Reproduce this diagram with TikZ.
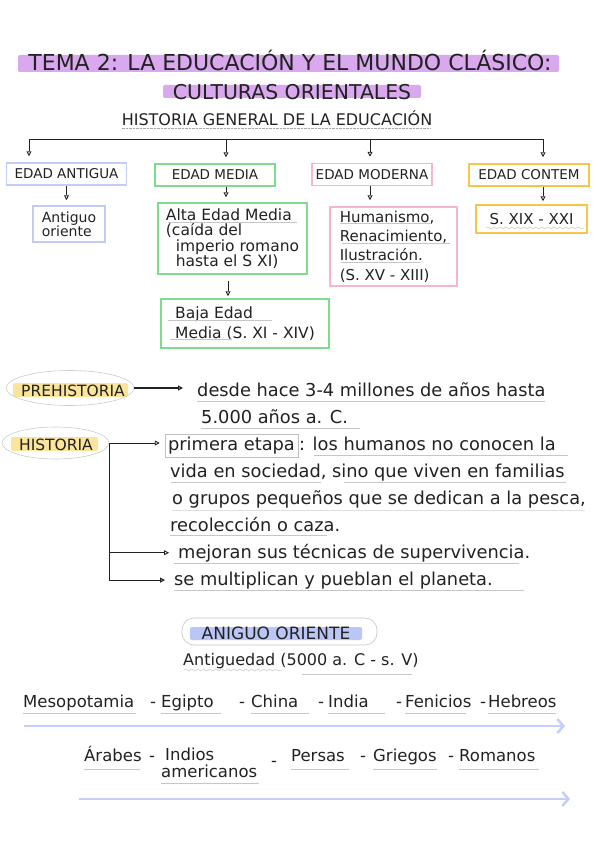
\documentclass[tikz,border=0pt]{standalone}
\usepackage{fontspec}
\setmainfont{DejaVu Sans}
\usetikzlibrary{arrows.meta, positioning, shapes.geometric, decorations.pathmorphing}

\definecolor{hlpurple}{HTML}{D9A8EE}
\definecolor{hlyellow}{HTML}{FBE49B}
\definecolor{hlblue}{HTML}{BAC6F6}
\definecolor{boxblue}{HTML}{C3CCF7}
\definecolor{boxgreen}{HTML}{7FDB8E}
\definecolor{boxpink}{HTML}{F7B5CE}
\definecolor{boxyellow}{HTML}{F6C645}
\definecolor{arrowblue}{HTML}{C5CEF8}
\definecolor{ink}{HTML}{222222}

\newcommand{\fs}[2]{\fontsize{#1}{#2}\selectfont}

\tikzset{
  edadbox/.style={draw=#1, line width=1.5pt, inner sep=0pt, minimum width=120pt, minimum height=22pt, font=\fs{13.5}{15}, text=ink},
  subbox/.style={draw=#1, line width=1.5pt, inner sep=0pt, align=left, text=ink},
  txt/.style={font=\fs{17.8}{20}, text=ink, inner sep=0pt, anchor=base west},
  conn/.style={ink, line width=0.9pt, -{Triangle[open,length=5pt,width=5pt]}},
  uline/.style={gray!45, line width=0.5pt},
  wavy/.style={gray!45, line width=0.5pt, decorate, decoration={snake, amplitude=1pt, segment length=6pt}},
  hl/.style={fill=#1, rounded corners=2pt},
  oval/.style={ellipse, draw=gray!40, line width=0.6pt, inner sep=0pt},
  timeline/.style={arrowblue, line width=2.5pt, -{Straight Barb[length=6pt,width=14pt]}},
}

\begin{document}
\begin{tikzpicture}[x=1pt, y=-1pt]
  \fill[white] (0,0) rectangle (600,848);
  \useasboundingbox (0,0) rectangle (600,848);

  % Titles
  \fill[hl=hlpurple] (18,55) rectangle (559,72);
  \node[font=\fs{22}{26}, text=ink, inner sep=0pt, anchor=base] (title) at (290,71) {TEMA 2: LA EDUCACIÓN Y EL MUNDO CLÁSICO:};
  \fill[hl=hlpurple] (163,85) rectangle (421,98);
  \node[font=\fs{20.4}{24}, text=ink, inner sep=0pt, anchor=base] (subtitle) at (292,99.5) {CULTURAS ORIENTALES};
  \node[font=\fs{16}{19}, text=ink, inner sep=0pt, anchor=base] (hge) at (277,125.5) {HISTORIA GENERAL DE LA EDUCACIÓN};
  \draw[gray!70, densely dotted] (hge.base west) ++(0,3) -- ++(309,0);

  % Ages
  \node[edadbox=boxblue] (ant) at (66.5,174) {EDAD ANTIGUA};
  \node[edadbox=boxgreen] (med) at (215,175) {EDAD MEDIA};
  \node[edadbox=boxpink] (mod) at (372,174.5) {EDAD MODERNA};
  \node[edadbox=boxyellow] (con) at (529,175) {EDAD CONTEM};

  \coordinate (d1) at (29,139);
  \coordinate (d2) at (226,139);
  \coordinate (d3) at (370,139);
  \coordinate (d4) at (543,139);
  \draw[ink, line width=0.9pt] (d1) -- (d4);
  \foreach \d/\b in {d1/ant, d2/med, d3/mod, d4/con}
    \draw[conn, shorten >=6pt] (\d) -- (\d |- \b.north);

  \node[subbox=boxblue, minimum width=72pt, minimum height=36pt, font=\fs{14}{14}] (ao) at (69,224) {Antiguo\\oriente};
  \node[subbox=boxgreen, minimum width=149pt, minimum height=71pt, font=\fs{15.5}{15.5}] (alta) at (232.5,238.5)
    {Alta Edad Media\\(caída del\\\ \ imperio romano\\\ \ hasta el S XI)};
  \node[subbox=boxpink, minimum width=127pt, minimum height=79pt, font=\fs{15}{19.3}] (hum) at (393.5,246.5)
    {Humanismo,\\Renacimiento,\\Ilustración.\\(S. XV - XIII)};
  \node[subbox=boxyellow, minimum width=111pt, minimum height=28pt, font=\fs{15}{17}] (sxix) at (531.5,219) {S. XIX - XXI};
  \node[subbox=boxgreen, minimum width=168pt, minimum height=49pt, font=\fs{15.5}{20}] (baja) at (245,323.5)
    {Baja Edad\\Media (S. XI - XIV)};

  \draw[conn, shorten >=5pt] (ant.south) -- (ant.south |- ao.north);
  \draw[conn, shorten >=5pt] (med.south -| d2) -- (d2 |- alta.north);
  \draw[conn, shorten >=6pt] (mod.south -| d3) -- (d3 |- hum.north);
  \draw[conn, shorten >=3pt] (con.south -| d4) -- (d4 |- sxix.north);
  \draw[conn, shorten >=2pt, shorten <=6pt] (alta.south -| 228,0) -- (228,0 |- baja.north);

  % underlines in boxes
  \draw[uline] (168,222) -- (297,222);
  \draw[uline] (340,223) -- (430,223);
  \draw[uline] (342,243) -- (450,243);
  \draw[uline] (341,262) -- (420,262);
  \draw[wavy] (486,228) -- (584,228);
  \draw[uline] (168,320) -- (272,320);
  \draw[uline] (170,339) -- (232,339);

  % Prehistoria
  \fill[hl=hlyellow] (13,383) rectangle (128,397);
  \node[font=\fs{15.5}{18}, text=ink, inner sep=0pt, anchor=base] (pre) at (73,396) {PREHISTORIA};
  \node[oval, minimum width=128pt, minimum height=35pt] (preov) at (70,388) {};
  \node[txt] (desde) at (197,396) {desde hace 3-4 millones de años hasta};
  \node[txt] (anos) at (201,423) {5.000 años a. C.};
  \draw[conn, line width=1.1pt, shorten >=14pt] (preov.east) -- (preov.east -| desde.west);
  \draw[uline] (197,401) -- (545,401);
  \draw[uline] (201,428) -- (360,428);

  % Historia
  \fill[hl=hlyellow] (11,437) rectangle (98,451);
  \node[font=\fs{15.5}{18}, text=ink, inner sep=0pt, anchor=base] (hist) at (56,450) {HISTORIA};
  \node[oval, minimum width=107pt, minimum height=32pt] (histov) at (55.5,443) {};
  \node[draw=gray!50, line width=0.5pt, font=\fs{17.8}{20}, text=ink, minimum width=133pt, minimum height=23pt, inner sep=0pt] (et) at (231.5,445.5) {primera etapa};
  \node[txt] (l1) at (299,450) {: los humanos no conocen la};
  \node[txt] (l2) at (170,477) {vida en sociedad, sino que viven en familias};
  \node[txt] (l3) at (172,504) {o grupos pequeños que se dedican a la pesca,};
  \node[txt] (l4) at (170,531) {recolección o caza.};
  \node[txt] (l5) at (178,558) {mejoran sus técnicas de supervivencia.};
  \node[txt] (l6) at (174,585) {se multiplican y pueblan el planeta.};

  \draw[conn, shorten >=5pt] (histov.east) -- (histov.east -| et.west);
  \draw[ink, line width=0.9pt] (histov.east) -- (histov.east |- l6.west);
  \draw[conn, shorten >=9pt] (histov.east |- l5.west) -- (l5.west);
  \draw[conn, line width=1.1pt, shorten >=9pt] (histov.east |- l6.west) -- (l6.west);

  \draw[uline] (314,455) -- (568,455);
  \draw[uline] (171,482) -- (321,482);
  \draw[uline] (344,482) -- (566,482);
  \draw[gray!25, line width=0.5pt] (172,510) -- (585,510);
  \draw[uline] (170,535) -- (327,535);
  \draw[uline] (174,563) -- (519,563);
  \draw[uline] (174,590) -- (524,590);

  % Antiguo oriente
  \draw[gray!45, line width=0.6pt, rounded corners=12pt] (182,618) rectangle (377,645);
  \fill[hl=hlblue] (190,627) rectangle (362,640);
  \node[font=\fs{17}{20}, text=ink, inner sep=0pt, anchor=base] (aor) at (276,639) {ANIGUO ORIENTE};
  \node[txt, font=\fs{16}{19}] (antig) at (183,665) {Antiguedad (5000 a. C - s. V)};
  \draw[wavy] (184,670) -- (282,670);
  \draw[uline] (302,674) -- (412,674);

  % Pueblos
  \foreach \x/\w/\u in {23/Mesopotamia/113, 150/-/0, 161/Egipto/60, 239/-/0, 251/China/58,
                        318/-/0, 328/India/57, 396/-/0, 405/Fenicios/61, 480/-/0, 488/Hebreos/68}{
    \node[txt, font=\fs{16.5}{19}] (p\x) at (\x,707) {\w};
    \ifnum\u>0 \draw[uline] (\x,713) -- ++(\u,0); \fi
  }
  \coordinate (t1s) at (24,726);
  \coordinate (t1e) at (565,726);
  \draw[timeline] (t1s) -- (t1e);

  \foreach \x/\w/\u in {84/Árabes/56, 149/-/0, 291/Persas/58, 360/-/0, 373/Griegos/64, 448/-/0, 459/Romanos/80}{
    \node[txt, font=\fs{16.5}{19}] (q\x) at (\x,761) {\w};
    \ifnum\u>0 \draw[uline] (\x,769) -- ++(\u,0); \fi
  }
  \node[txt, font=\fs{16.5}{19}] (indios) at (165,760) {Indios};
  \node[txt, font=\fs{16.5}{19}] (amer) at (161,777) {americanos};
  \node[txt, font=\fs{16.5}{19}] (dash) at (271,766) {-};
  \draw[uline] (161,783) -- (259,783);
  \coordinate (t2s) at (79,799);
  \coordinate (t2e) at (570,799);
  \draw[timeline] (t2s) -- (t2e);
\end{tikzpicture}
\end{document}
